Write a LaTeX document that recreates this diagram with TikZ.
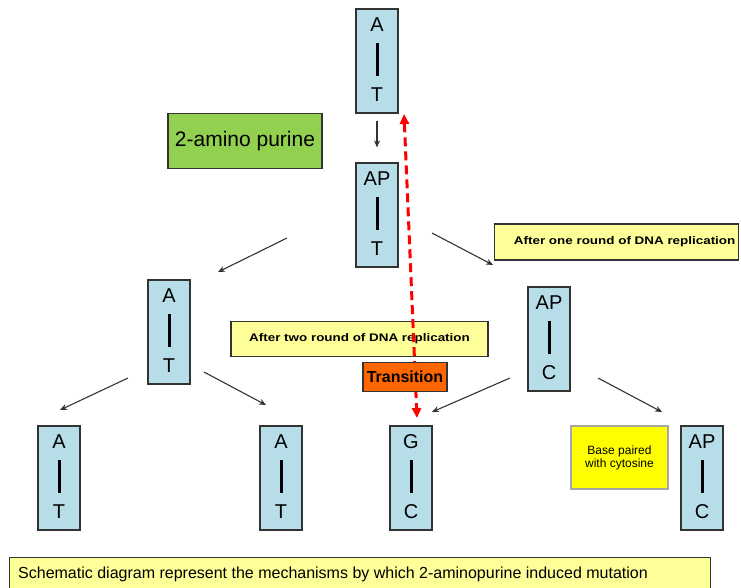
\documentclass[tikz,border=0pt]{standalone}
\usepackage{fontspec}
\setmainfont{Liberation Sans}
\usetikzlibrary{calc,arrows.meta}

\definecolor{pairblue}{HTML}{B7DEE8}
\definecolor{agentgreen}{HTML}{92D050}
\definecolor{notepale}{HTML}{FFFF99}
\definecolor{noteyellow}{HTML}{FFFF00}
\definecolor{transorange}{HTML}{FF6600}
\definecolor{edgegray}{HTML}{333333}

% one base pair: box, upper base, bond, lower base
\newcommand\basepair[5]{%
  \node[pairbox] (#1) at (#2,#3) {};
  \node[baseletter] (#1-up) at ($(#1.north)+(0,16)$) {#4};
  \draw[bond] ($(#1.north)+(0,35)$) -- ($(#1.north)+(0,68)$);
  \node[baseletter] (#1-dn) at ($(#1.north)+(0,86)$) {#5};
}
% wide bold label text
\newcommand\widebold[1]{\scalebox{1.22}[1]{\fontsize{11}{12}\selectfont\bfseries #1}}

\begin{document}
\begin{tikzpicture}[x=1pt,y=-1pt,
  pairbox/.style={draw=edgegray, line width=1.3pt, fill=pairblue,
    minimum width=42pt, minimum height=104pt, inner sep=0pt},
  baseletter/.style={font=\fontsize{20}{20}\selectfont, inner sep=0pt},
  bond/.style={line width=3pt, black},
  flow/.style={draw=edgegray, line width=1.1pt, -{Stealth[length=7pt,width=6pt]}},
  paleNote/.style={draw=edgegray, line width=1.3pt, fill=notepale, inner sep=0pt},
  transbox/.style={draw=edgegray, line width=1.3pt, fill=transorange, minimum width=84pt,
    minimum height=29pt, inner sep=0pt, font=\fontsize{16}{16}\selectfont\bfseries},
  mutflow/.style={draw=red, line width=3pt, dash pattern=on 9pt off 5pt,
    {Triangle[length=10pt,width=9pt]}-{Triangle[length=10pt,width=9pt]}}
]
\useasboundingbox (0,0) rectangle (741,587);
\clip (0,0) rectangle (741,587);

% base pairs
\basepair{at0}{377}{61}{A}{T}
\basepair{apt}{377}{215}{AP}{T}
\basepair{at1}{169}{332}{A}{T}
\basepair{apc1}{549}{339}{AP}{C}
\basepair{at2}{59}{478}{A}{T}
\basepair{at3}{281}{478}{A}{T}
\basepair{gc}{411}{478}{G}{C}
\basepair{apc2}{702}{478}{AP}{C}

% labels
\node[draw=edgegray, line width=1.3pt, fill=agentgreen, minimum width=154pt,
  minimum height=55pt, inner sep=0pt, font=\fontsize{21}{21}\selectfont]
  (agent) at (245,141) {2-amino purine};
\node[paleNote, minimum width=244pt, minimum height=36pt, anchor=west]
  (round1) at (494,242) {\hspace*{16pt}\widebold{After one round of DNA replication}};
\node[paleNote, minimum width=257pt, minimum height=35pt]
  (round2) at (359.5,339) {\widebold{After two round of DNA replication}};
\node[draw=gray!70, line width=1.3pt, fill=noteyellow, minimum width=97pt,
  minimum height=63pt, inner sep=0pt, align=center,
  font=\fontsize{12}{13}\selectfont]
  (paired) at (619.5,457.5) {Base paired\\with cytosine};
\node[paleNote, minimum width=701pt, minimum height=44pt, anchor=north west]
  (caption) at (9,557) {};
\node[anchor=west, font=\fontsize{16}{18}\selectfont, inner sep=0pt]
  (captiontext) at (18,574)
  {Schematic diagram represent the mechanisms by which 2-aminopurine induced mutation};

% arrow ends
\coordinate (l1s) at (287,238); \coordinate (l1e) at (218,272);
\coordinate (r1s) at (432,233); \coordinate (r1e) at (493,265);
\coordinate (l2s) at (128,378); \coordinate (l2e) at (60,410);
\coordinate (m2s) at (204,372); \coordinate (m2e) at (266,405);
\coordinate (n2s) at (510,378); \coordinate (n2e) at (432,412);
\coordinate (r2s) at (598,378); \coordinate (r2e) at (662,412);
\coordinate (mutTop) at (404,114); \coordinate (mutBot) at (417,418);

% replication steps
\draw[flow, shorten <=7pt, shorten >=15pt] (at0) -- (apt);
\draw[flow] (l1s) -- (l1e);
\draw[flow] (r1s) -- (r1e);
\draw[flow] (l2s) -- (l2e);
\draw[flow] (m2s) -- (m2e);
\draw[flow] (n2s) -- (n2e);
\draw[flow] (r2s) -- (r2e);

% A:T to G:C transition, drawn over by its label
\draw[mutflow] (mutTop) -- (mutBot);
\node[transbox] (trans) at (405,377) {Transition};
\end{tikzpicture}
\end{document}
